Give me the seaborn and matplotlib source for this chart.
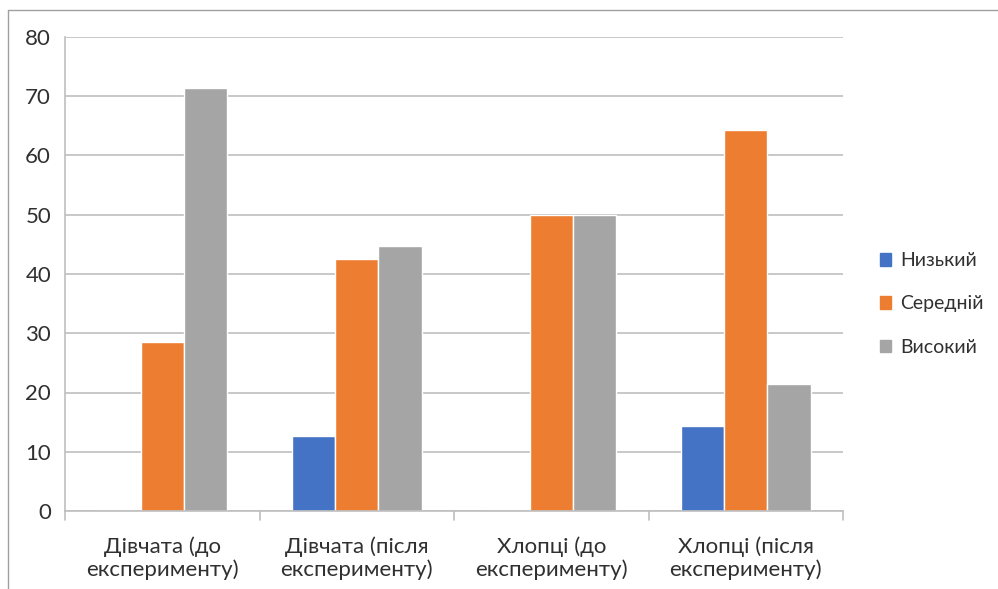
import matplotlib.pyplot as plt
import matplotlib.lines as mlines
import numpy as np
import seaborn as sns
import pandas as pd

categories = ["Дівчата (до\nексперименту)", "Дівчата (після\nексперименту)",
              "Хлопці (до\nексперименту)", "Хлопці (після\nексперименту)"]
levels = ["Низький", "Середній", "Високий"]
low = [0, 12.7, 0, 14.3]
mid = [28.6, 42.5, 50.0, 64.3]
high = [71.4, 44.8, 50.0, 21.5]
colors = ["#4472C4", "#ED7D31", "#A5A5A5"]

sns.set_theme(style="white")
plt.rcParams['font.family'] = ['Lato', 'Noto Sans', 'DejaVu Sans']

rows = []
for lvl, vals in zip(levels, [low, mid, high]):
    for c, v in zip(categories, vals):
        rows.append({"cat": c, "level": lvl, "val": v})
df = pd.DataFrame(rows)

fig = plt.figure(figsize=(9.98, 5.89), dpi=100)
ax = fig.add_axes([65/998, 78/589, 778/998, 474/589])

sns.barplot(data=df, x="cat", y="val", hue="level", hue_order=levels,
            palette=colors, saturation=1, width=0.67, ax=ax, legend=False)

ax.set_ylim(0, 80)
ax.set_yticks(np.arange(0, 81, 10))
ax.set_xlim(-0.5, 3.5)
ax.grid(axis="y", color="#BFBFBF", linewidth=1.2)
ax.set_axisbelow(True)
for s in ["top", "right"]:
    ax.spines[s].set_visible(False)
ax.spines["left"].set_color("#BFBFBF")
ax.spines["bottom"].set_color("#BFBFBF")
ax.spines["left"].set_linewidth(1.2)
ax.spines["bottom"].set_linewidth(1.2)
ax.set_xlabel("")
ax.set_ylabel("")
ax.tick_params(axis="y", length=0, labelsize=16, colors="#303030", pad=10)
ax.tick_params(axis="x", length=0, labelsize=16, colors="#303030", pad=18)
for lbl in ax.get_xticklabels():
    lbl.set_linespacing(1.15)
for xb in np.arange(-0.5, 4.0, 1.0):
    ax.plot([xb, xb], [0, -1.5], color="#BFBFBF", lw=1.2, clip_on=False)

handles = [plt.Rectangle((0, 0), 1, 1, color=c) for c in colors]
fig.legend(handles, levels, loc="center left", bbox_to_anchor=(866/998, 1 - 304/589),
           frameon=False, fontsize=14, handlelength=0.6, handleheight=0.6,
           handletextpad=0.45, labelspacing=1.35, borderpad=0.2, labelcolor="#303030")

# outer chart border
fig.add_artist(mlines.Line2D([8/998, 8/998], [0, 1 - 10/589], color="#A0A0A0", lw=1))
fig.add_artist(mlines.Line2D([8/998, 1], [1 - 10/589, 1 - 10/589], color="#A0A0A0", lw=1))

plt.savefig("out.png", dpi=100)
